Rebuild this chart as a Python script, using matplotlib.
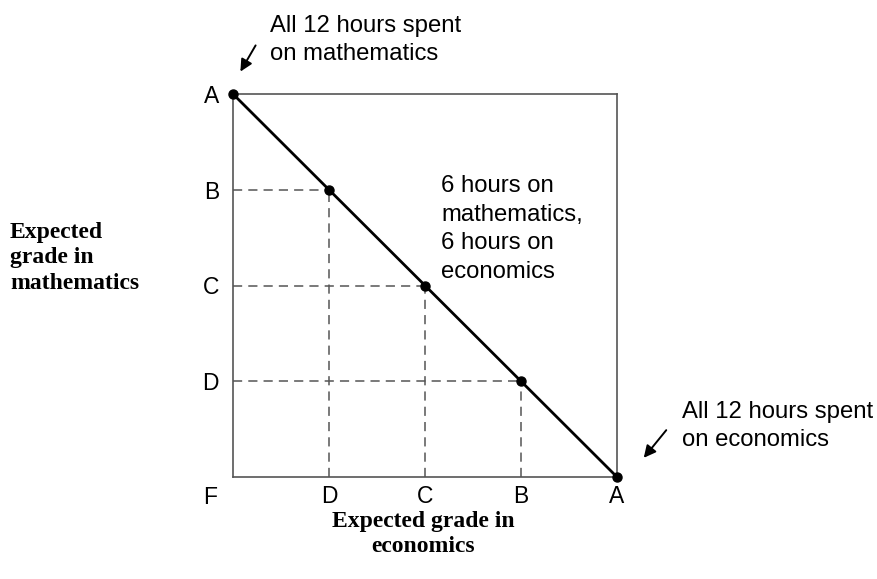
import matplotlib
matplotlib.use('Agg')
import matplotlib.pyplot as plt

# ─── Data ────────────────────────────────────────────────────────────────────
# grade scale: F=0, D=1, C=2, B=3, A=4
grade_pos = [1, 2, 3, 4]
grade_labels = ["D", "C", "B", "A"]

# production possibilities: economics grade vs mathematics grade
econ_grade = [0, 1, 2, 3, 4]
math_grade = [4, 3, 2, 1, 0]

SANS = "Liberation Sans"
SERIF = "Liberation Serif"
FS = 17.2
FS_TICK = 16.5
FS_TITLE = 17.0

fig = plt.figure(figsize=(8.77, 5.79), dpi=100)
fig.patch.set_facecolor("white")
ax = fig.add_axes([233 / 877, 1 - 477 / 579, 384 / 877, 383 / 579])
ax.set_xlim(0, 4)
ax.set_ylim(0, 4)

for sp in ax.spines.values():
    sp.set_color("#555555")
    sp.set_linewidth(1.2)

# dashed guides from interior points to the axes
for x, y in zip(econ_grade[1:-1], math_grade[1:-1]):
    ax.plot([0, x], [y, y], ls=(0, (6, 4)), color="#555555", lw=1.1, zorder=1)
    ax.plot([x, x], [0, y], ls=(0, (6, 4)), color="#555555", lw=1.1, zorder=1)

ax.plot(econ_grade, math_grade, color="black", lw=2.0, zorder=3,
        marker="o", markersize=6.5, clip_on=False)

ax.set_xticks(grade_pos)
ax.set_xticklabels(grade_labels, family=SANS, fontsize=FS_TICK)
ax.set_yticks(grade_pos)
ax.set_yticklabels(grade_labels, family=SANS, fontsize=FS_TICK)
ax.tick_params(axis="x", length=0, pad=6)
ax.tick_params(axis="y", length=0, pad=10)

fig.text(210 / 877, 1 - 497 / 579, "F", family=SANS, fontsize=FS_TICK,
         ha="center", va="center")

# annotations
fig.text(270 / 877, 1 - 40 / 579, "All 12 hours spent\non mathematics",
         family=SANS, fontsize=FS, ha="left", va="center", linespacing=1.38)
fig.text(441 / 877, 1 - 229 / 579,
         "6 hours on\nmathematics,\n6 hours on\neconomics",
         family=SANS, fontsize=FS, ha="left", va="center", linespacing=1.38)
fig.text(682 / 877, 1 - 426 / 579, "All 12 hours spent\non economics",
         family=SANS, fontsize=FS, ha="left", va="center", linespacing=1.38)

arrow = dict(arrowstyle="-|>", color="black", lw=1.4, mutation_scale=18)
ax.annotate("", xy=(239 / 877, 1 - 74 / 579), xytext=(257 / 877, 1 - 43 / 579),
            xycoords="figure fraction", textcoords="figure fraction",
            arrowprops=arrow)
ax.annotate("", xy=(642 / 877, 1 - 460 / 579), xytext=(668 / 877, 1 - 428 / 579),
            xycoords="figure fraction", textcoords="figure fraction",
            arrowprops=arrow)

# axis titles
fig.text(423 / 877, 1 - 534 / 579, "Expected grade in\neconomics",
         family=SERIF, fontweight="bold", fontsize=FS_TITLE, ha="center",
         va="center", linespacing=1.3)
fig.text(10 / 877, 1 - 258 / 579, "Expected\ngrade in\nmathematics",
         family=SERIF, fontweight="bold", fontsize=FS_TITLE, ha="left",
         va="center", linespacing=1.3)

fig.savefig("out.png", dpi=100, facecolor="white")
